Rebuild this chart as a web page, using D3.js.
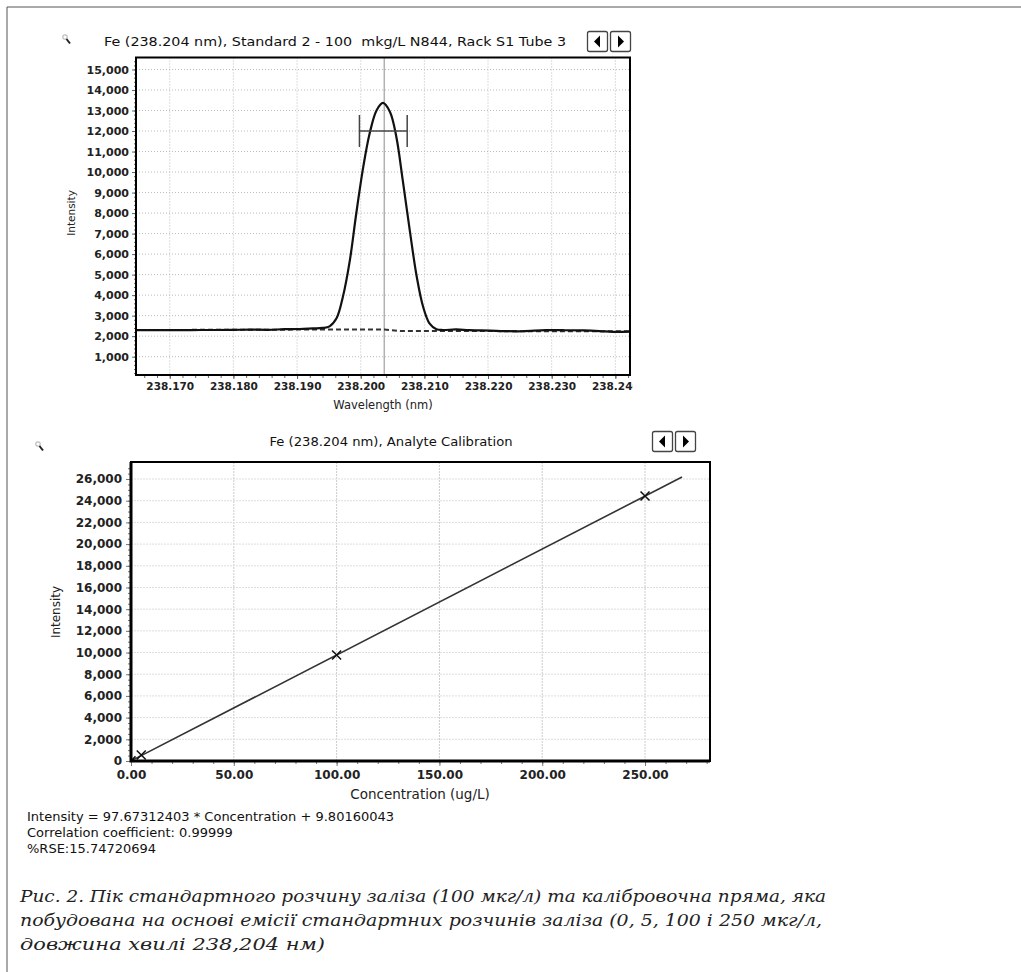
<!DOCTYPE html>
<html><head><meta charset="utf-8">
<script src="https://cdn.jsdelivr.net/npm/d3@7"></script>
<style>body{margin:0;background:#fff} svg{display:block}</style>
</head><body>
<svg id="c" width="1021" height="972"></svg>
<script>
// ---------- data: spectral peak (top chart) ----------
const peakWavelength = [238.1647, 238.1700, 238.1750, 238.1800, 238.1825, 238.1855, 238.1880, 238.1904, 238.1925, 238.1940, 238.1951, 238.1962, 238.1972, 238.1983, 238.1993, 238.2004, 238.2014, 238.2025, 238.2035, 238.2046, 238.2056, 238.2066, 238.2077, 238.2088, 238.2098, 238.2108, 238.2119, 238.2129, 238.2150, 238.2170, 238.2190, 238.2220, 238.2254, 238.2290, 238.2317, 238.2350, 238.2375, 238.2396, 238.2423];
const peakIntensity  = [2290, 2295, 2300, 2305, 2320, 2310, 2340, 2350, 2380, 2400, 2480, 2870, 3920, 5710, 7980, 10250, 11880, 13015, 13370, 12930, 11710, 9605, 7170, 4895, 3434, 2625, 2340, 2300, 2330, 2290, 2280, 2250, 2240, 2290, 2290, 2280, 2250, 2210, 2220];
const baseWavelength = [238.1647, 238.2037, 238.2062, 238.2423];
const baseIntensity  = [2300, 2330, 2250, 2240];
const peakCenter = 238.2037;
const fwhmRange = [238.1998, 238.2073];
const fwhmLevel = 12000;
const specXTicks = [238.17, 238.18, 238.19, 238.20, 238.21, 238.22, 238.23, 238.24];
const specYTicks = [1000, 2000, 3000, 4000, 5000, 6000, 7000, 8000, 9000, 10000, 11000, 12000, 13000, 14000, 15000];

// ---------- data: calibration (bottom chart) ----------
const calConc = [0, 5, 100, 250];
const calInt  = [10, 560, 9780, 24430];
const fitConc = [0, 268];
const fitInt  = [10, 26186];
const calXTicks = [0, 50, 100, 150, 200, 250];
const calYTicks = [0, 2000, 4000, 6000, 8000, 10000, 12000, 14000, 16000, 18000, 20000, 22000, 24000, 26000];

const topTitle = "Fe (238.204 nm), Standard 2 - 100  mkg/L N844, Rack S1 Tube 3";
const botTitle = "Fe (238.204 nm), Analyte Calibration";
const statLines = ["Intensity = 97.67312403 * Concentration + 9.80160043",
                   "Correlation coefficient: 0.99999",
                   "%RSE:15.74720694"];
const captionLines = ["Рис. 2. Пік стандартного розчину заліза (100 мкг/л) та калібровочна пряма, яка",
                      "побудована на основі емісії стандартних розчинів заліза (0, 5, 100 і 250 мкг/л,",
                      "довжина хвилі 238,204 нм)"];

const svg = d3.select("#c");
const UI = "'DejaVu Sans', Verdana, sans-serif";

// outer frame
svg.append("path").attr("d", "M7,972V7H1021").attr("fill", "none").attr("stroke", "#555").attr("stroke-width", 1);

function magnifier(x, y) {
  const g = svg.append("g").attr("transform", `translate(${x},${y})`);
  g.append("circle").attr("r", 2.2).attr("cx", 0).attr("cy", 0).attr("fill", "none").attr("stroke", "#bbb").attr("stroke-width", 1.2);
  g.append("line").attr("x1", 1.5).attr("y1", 2).attr("x2", 5).attr("y2", 6.5).attr("stroke", "#222").attr("stroke-width", 2);
}
function buttons(x, y) {
  [0, 1].forEach(i => {
    const g = svg.append("g").attr("transform", `translate(${x + i * 23},${y})`);
    g.append("rect").attr("x", 0.5).attr("y", 0.5).attr("width", 20).attr("height", 20).attr("rx", 2)
      .attr("fill", "#fff").attr("stroke", "#444").attr("stroke-width", 1.3);
    const d = i === 0 ? "M7,10.5L13,4.5V16.5Z" : "M14,10.5L8,4.5V16.5Z";
    g.append("path").attr("d", d).attr("fill", "#000");
  });
}

// ================= TOP CHART =================
const T = {l: 136, r: 630, t: 57.5, b: 375};
const xs = d3.scaleLinear().domain([238.1647, 238.2423]).range([T.l, T.r]);
const ys = d3.scaleLinear().domain([107, 15584]).range([T.b, T.t]);

magnifier(65, 37);
svg.append("text").attr("x", 104).attr("y", 45.5).attr("font-family", UI).attr("font-size", 12.5)
  .attr("textLength", 462).attr("lengthAdjust", "spacingAndGlyphs").attr("fill", "#111")
  .style("white-space", "pre").text(topTitle);
buttons(587, 31);

// grid
const gT = svg.append("g");
gT.selectAll(".gx").data(specXTicks.filter(d => xs(d) < T.r - 2)).join("line")
  .attr("x1", d => xs(d)).attr("x2", d => xs(d)).attr("y1", T.t).attr("y2", T.b)
  .attr("stroke", "#bbb").attr("stroke-dasharray", "1,2");
gT.selectAll(".gy").data(specYTicks).join("line")
  .attr("x1", T.l).attr("x2", T.r).attr("y1", d => ys(d)).attr("y2", d => ys(d))
  .attr("stroke", "#bbb").attr("stroke-dasharray", "1,2");

// axes
const minorY = d3.range(200, 15600, 200);
svg.append("g").attr("transform", `translate(${T.l},0)`)
  .call(d3.axisLeft(ys).tickValues(minorY).tickSize(2).tickFormat(""))
  .call(g => g.select(".domain").remove()).selectAll("line").attr("stroke", "#666");
svg.append("g").attr("transform", `translate(${T.l},0)`)
  .call(d3.axisLeft(ys).tickValues(specYTicks).tickSize(4).tickPadding(3).tickFormat(d3.format(",")))
  .call(g => g.select(".domain").remove())
  .call(g => g.selectAll("text").attr("font-family", UI).attr("font-size", 11).attr("font-weight", "bold").attr("fill", "#222"))
  .selectAll("line").attr("stroke", "#666");

svg.append("defs").append("clipPath").attr("id", "xclip").append("rect")
  .attr("x", 0).attr("y", 0).attr("width", 633).attr("height", 972);
const minorX = d3.range(238.166, 238.2423, 0.002);
svg.append("g").attr("transform", `translate(0,${T.b})`)
  .call(d3.axisBottom(xs).tickValues(minorX).tickSize(3).tickFormat(""))
  .call(g => g.select(".domain").remove()).selectAll("line").attr("stroke", "#666");
svg.append("g").attr("transform", `translate(0,${T.b})`).attr("clip-path", "url(#xclip)")
  .call(d3.axisBottom(xs).tickValues(specXTicks).tickSize(4).tickPadding(4).tickFormat(d3.format(".3f")))
  .call(g => g.select(".domain").remove())
  .call(g => g.selectAll("text").attr("font-family", UI).attr("font-size", 10.5).attr("font-weight", "bold").attr("fill", "#222"))
  .selectAll("line").attr("stroke", "#666");

svg.append("text").attr("transform", "translate(75,213) rotate(-90)").attr("text-anchor", "middle")
  .attr("font-family", UI).attr("font-size", 10.5).attr("fill", "#222").text("Intensity");
svg.append("text").attr("x", 383).attr("y", 409).attr("text-anchor", "middle")
  .attr("font-family", UI).attr("font-size", 11.5).attr("fill", "#222").text("Wavelength (nm)");

// peak-centre marker
svg.append("line").attr("x1", xs(peakCenter)).attr("x2", xs(peakCenter)).attr("y1", T.t).attr("y2", T.b)
  .attr("stroke", "#666").attr("stroke-width", 1.5).attr("stroke-dasharray", "1,1");

// baseline (dashed) and peak
const lineT = d3.line().x(d => xs(d[0])).y(d => ys(d[1]));
svg.append("path").datum(d3.zip(baseWavelength, baseIntensity)).attr("d", lineT)
  .attr("fill", "none").attr("stroke", "#333").attr("stroke-width", 2).attr("stroke-dasharray", "5,3");
svg.append("path").datum(d3.zip(peakWavelength, peakIntensity)).attr("d", lineT.curve(d3.curveCatmullRom))
  .attr("fill", "none").attr("stroke", "#111").attr("stroke-width", 2.2);

// FWHM bar
const fy = ys(fwhmLevel);
const fw = svg.append("g").attr("stroke", "#444").attr("stroke-width", 1.5);
fw.append("line").attr("x1", xs(fwhmRange[0])).attr("x2", xs(fwhmRange[1])).attr("y1", fy).attr("y2", fy);
fwhmRange.forEach(v => fw.append("line").attr("x1", xs(v)).attr("x2", xs(v)).attr("y1", fy - 16).attr("y2", fy + 16));

svg.append("rect").attr("x", T.l).attr("y", T.t).attr("width", T.r - T.l).attr("height", T.b - T.t)
  .attr("fill", "none").attr("stroke", "#000").attr("stroke-width", 2);

// ================= BOTTOM CHART =================
const B = {l: 131, r: 710, t: 462, b: 761};
const xc = d3.scaleLinear().domain([0, 281.6]).range([B.l, B.r]);
const yc = d3.scaleLinear().domain([0, 27570]).range([B.b, B.t]);

magnifier(38, 444);
svg.append("text").attr("x", 391).attr("y", 445.5).attr("text-anchor", "middle").attr("font-family", UI)
  .attr("font-size", 13).attr("textLength", 243).attr("lengthAdjust", "spacingAndGlyphs").attr("fill", "#111").text(botTitle);
buttons(652, 431);

const gB = svg.append("g");
gB.selectAll(".gx").data(calXTicks.filter(d => d > 0)).join("line")
  .attr("x1", d => xc(d)).attr("x2", d => xc(d)).attr("y1", B.t).attr("y2", B.b)
  .attr("stroke", "#ccc").attr("stroke-dasharray", "2,1");
gB.selectAll(".gy").data(calYTicks.filter(d => d > 0)).join("line")
  .attr("x1", B.l).attr("x2", B.r).attr("y1", d => yc(d)).attr("y2", d => yc(d))
  .attr("stroke", "#ddd").attr("stroke-dasharray", "2,1");

svg.append("g").attr("transform", `translate(${B.l},0)`)
  .call(d3.axisLeft(yc).tickValues(d3.range(500, 27500, 500)).tickSize(3).tickFormat(""))
  .call(g => g.select(".domain").remove()).selectAll("line").attr("stroke", "#777");
svg.append("g").attr("transform", `translate(${B.l},0)`)
  .call(d3.axisLeft(yc).tickValues(calYTicks).tickSize(5).tickPadding(4).tickFormat(d3.format(",")))
  .call(g => g.select(".domain").remove())
  .call(g => g.selectAll("text").attr("font-family", UI).attr("font-size", 12).attr("font-weight", "bold").attr("fill", "#222"))
  .selectAll("line").attr("stroke", "#777");
svg.append("g").attr("transform", `translate(0,${B.b})`)
  .call(d3.axisBottom(xc).tickValues(d3.range(10, 281, 10)).tickSize(3).tickFormat(""))
  .call(g => g.select(".domain").remove()).selectAll("line").attr("stroke", "#777");
svg.append("g").attr("transform", `translate(0,${B.b})`)
  .call(d3.axisBottom(xc).tickValues(calXTicks).tickSize(5).tickPadding(4).tickFormat(d3.format(".2f")))
  .call(g => g.select(".domain").remove())
  .call(g => g.selectAll("text").attr("font-family", UI).attr("font-size", 12).attr("font-weight", "bold").attr("fill", "#222"))
  .selectAll("line").attr("stroke", "#777");

svg.append("text").attr("transform", "translate(60,612) rotate(-90)").attr("text-anchor", "middle")
  .attr("font-family", UI).attr("font-size", 12).attr("fill", "#222").text("Intensity");
svg.append("text").attr("x", 420).attr("y", 799).attr("text-anchor", "middle")
  .attr("font-family", UI).attr("font-size", 13.5).attr("fill", "#222").text("Concentration (ug/L)");

svg.append("defs").append("clipPath").attr("id", "bclip").append("rect")
  .attr("x", B.l + 1).attr("y", B.t).attr("width", B.r - B.l).attr("height", B.b - B.t - 1);
const lineB = d3.line().x(d => xc(d[0])).y(d => yc(d[1]));
svg.append("path").datum(d3.zip(fitConc, fitInt)).attr("d", lineB)
  .attr("fill", "none").attr("stroke", "#333").attr("stroke-width", 1.6);
svg.append("g").attr("clip-path", "url(#bclip)").selectAll("path.mk").data(d3.zip(calConc, calInt)).join("path")
  .attr("d", d => { const x = xc(d[0]), y = yc(d[1]); return `M${x-4.5},${y-4.5}L${x+4.5},${y+4.5}M${x-4.5},${y+4.5}L${x+4.5},${y-4.5}`; })
  .attr("stroke", "#111").attr("stroke-width", 1.5);

svg.append("rect").attr("x", B.l).attr("y", B.t).attr("width", B.r - B.l).attr("height", B.b - B.t)
  .attr("fill", "none").attr("stroke", "#000").attr("stroke-width", 2);
svg.append("path").attr("d", `M${B.l},${B.t}V${B.b}H${B.r}`).attr("fill", "none").attr("stroke", "#000").attr("stroke-width", 3);

svg.selectAll("text.stat").data(statLines).join("text").attr("class", "stat")
  .attr("x", 27).attr("y", (d, i) => 821 + i * 16).attr("font-family", UI).attr("font-size", 13).attr("fill", "#111").text(d => d);

// caption
const capW = [806, 802, 305];
svg.selectAll("text.cap").data(captionLines).join("text").attr("class", "cap")
  .attr("x", 20).attr("y", (d, i) => 902 + i * 24)
  .attr("font-family", "'DejaVu Serif', 'Liberation Serif', serif").attr("font-style", "italic").attr("font-size", 17)
  .attr("textLength", (d, i) => capW[i]).attr("lengthAdjust", "spacingAndGlyphs").attr("fill", "#222").text(d => d);
</script>
</body></html>
